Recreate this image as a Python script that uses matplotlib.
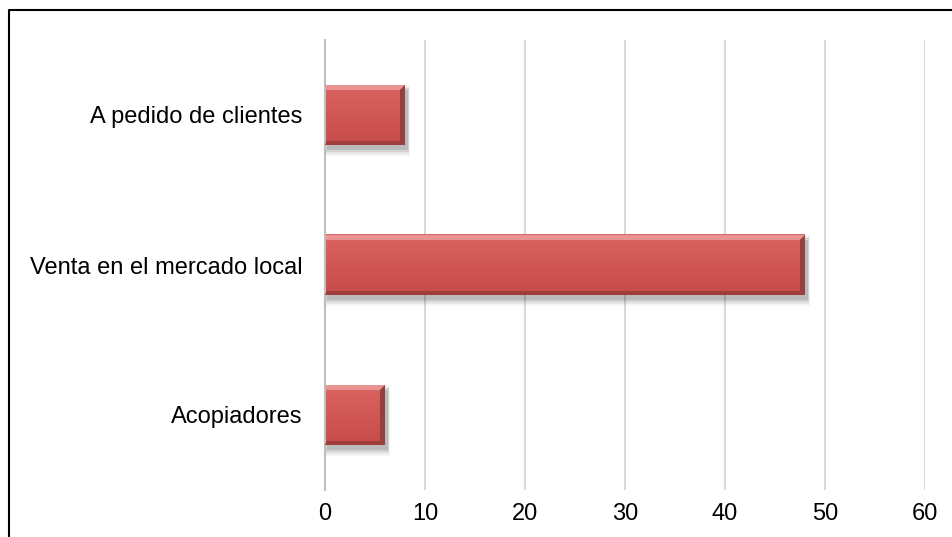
import numpy as np
import matplotlib.pyplot as plt
from matplotlib.colors import LinearSegmentedColormap
from matplotlib.patches import Polygon, Rectangle
from matplotlib.lines import Line2D

plt.rcParams['font.family'] = ['Liberation Sans', 'DejaVu Sans']

categories = ["Acopiadores", "Venta en el mercado local", "A pedido de clientes"]
values = [6, 48, 8]
x_ticks = [0, 10, 20, 30, 40, 50, 60]

fig = plt.figure(figsize=(9.52, 5.37), dpi=100)
ax = fig.add_axes([325 / 952, 1 - 490 / 537, 600 / 952, 450 / 537])

bar_h = 0.4
ypos = list(range(len(categories)))
face_cmap = LinearSegmentedColormap.from_list("face", ["#C64C49", "#D05754", "#DA6461"])
grad = np.linspace(0, 1, 64).reshape(-1, 1)

# soft drop shadow under each bar
for y, v in zip(ypos, values):
    for i, a in enumerate([0.04, 0.06, 0.08, 0.11]):
        grow = (3 - i) * 0.012
        ax.add_patch(Rectangle((0.15 - grow * 6, y - bar_h / 2 - 0.035 - grow),
                               v + 0.15 + grow * 12, bar_h + grow * 2,
                               facecolor="#000000", alpha=a, linewidth=0, zorder=1))

bars = ax.barh(ypos, values, height=bar_h, color="#CF5552", linewidth=0, zorder=2)

# gradient face and bevel edges on each bar
bx, by = 0.5, 0.033
for p in bars.patches:
    x0, y0 = p.get_x(), p.get_y()
    x1, y1 = x0 + p.get_width(), y0 + p.get_height()
    ax.imshow(grad, cmap=face_cmap, origin="lower", aspect="auto",
              extent=(x0, x1, y0, y1), zorder=2.2, interpolation="bilinear")
    top = [(x0, y1), (x1, y1), (x1 - bx, y1 - by), (x0 + bx * 0.3, y1 - by)]
    bottom = [(x0, y0), (x1, y0), (x1 - bx, y0 + by * 0.8), (x0 + bx * 0.3, y0 + by * 0.8)]
    right = [(x1, y1), (x1, y0), (x1 - bx, y0 + by * 0.8), (x1 - bx, y1 - by)]
    ax.add_patch(Polygon(top, closed=True, facecolor="#E99491", linewidth=0, zorder=3))
    ax.add_patch(Polygon(bottom, closed=True, facecolor="#A03D3B", linewidth=0, zorder=3))
    ax.add_patch(Polygon(right, closed=True, facecolor="#93403E", linewidth=0, zorder=3))

ax.set_xlim(0, 60)
ax.set_ylim(-0.5, 2.5)
ax.set_xticks(x_ticks)
ax.set_yticks(ypos)
ax.set_yticklabels(categories)
ax.grid(axis="x", color="#D9D9D9", linewidth=1.5, zorder=0)
ax.set_axisbelow(True)
for side in ["top", "right", "bottom"]:
    ax.spines[side].set_visible(False)
ax.spines["left"].set_color("#BFBFBF")
ax.spines["left"].set_linewidth(1.5)
ax.tick_params(axis="both", length=0, labelsize=17, colors="black")
ax.tick_params(axis="y", pad=16)
ax.tick_params(axis="x", pad=9)

# chart frame along the top and left
fig.add_artist(Line2D([8.5 / 952, 8.5 / 952, 1.0], [0.0, 1 - 10 / 537, 1 - 10 / 537],
                      transform=fig.transFigure, color="black", linewidth=1.5))

fig.savefig("out.png", dpi=100)
